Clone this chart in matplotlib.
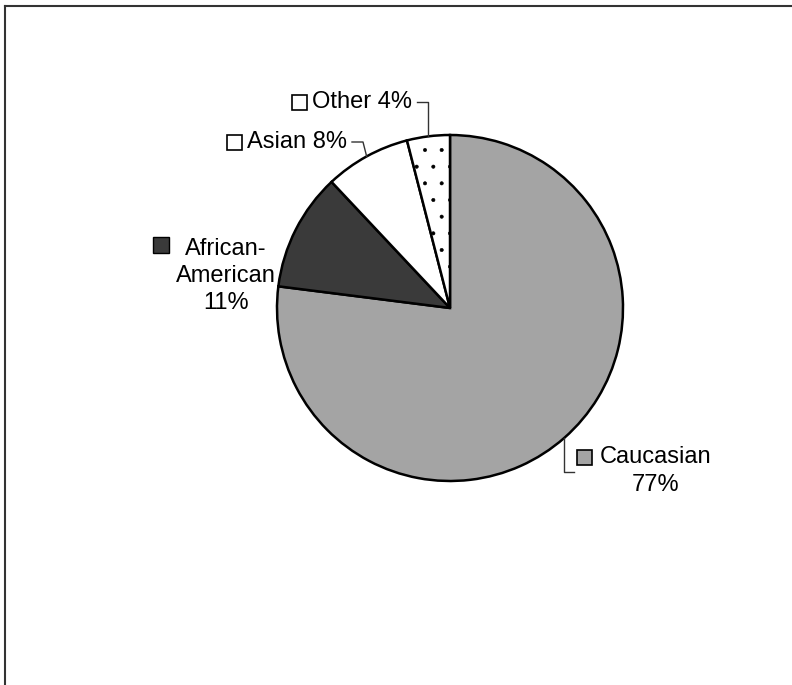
import numpy as np
import matplotlib
matplotlib.use("Agg")
import matplotlib.pyplot as plt
from matplotlib.patches import Rectangle
from matplotlib.lines import Line2D

# ---- data ----
categories = ["Caucasian", "African-American", "Asian", "Other"]
values = [77, 11, 8, 4]
label_texts = ["Caucasian\n77%", "African-\nAmerican\n11%", "Asian 8%", "Other 4%"]

# ---- style ----
colors = ["#a4a4a4", "#3a3a3a", "#ffffff", "#ffffff"]
hatches = [None, None, None, "."]

W, H = 792, 685
plt.rcParams['font.family'] = ['Liberation Sans', 'DejaVu Sans']
plt.rcParams['hatch.color'] = '#9a9a9a'
plt.rcParams['hatch.linewidth'] = 0.4

fig = plt.figure(figsize=(W / 100, H / 100), dpi=100)
ax = fig.add_axes([0, 0, 1, 1])

def Y(y):
    return H - y

cx, cy, r = 450, Y(308), 173
wedges, _ = ax.pie(values, colors=colors, startangle=90, counterclock=False,
                   center=(cx, cy), radius=r,
                   wedgeprops=dict(edgecolor="black", linewidth=1.8))
for w, h in zip(wedges, hatches):
    if h:
        w.set_hatch(h)

ax.set_xlim(0, W)
ax.set_ylim(0, H)
ax.set_aspect('equal')
ax.axis('off')

def edge_point(w):
    a = np.deg2rad((w.theta1 + w.theta2) / 2)
    return cx + r * np.cos(a), cy + r * np.sin(a)

fs = 17
box = 15
# Caucasian
ex, ey = edge_point(wedges[0])
ax.plot([ex, ex, ex + 10], [ey, Y(472), Y(472)], color="#333333", lw=1.0)
ax.add_patch(Rectangle((577, Y(465)), box, box, facecolor=colors[0], edgecolor="black", lw=1.2))
ax.text(656, Y(471), label_texts[0], ha="center", va="center", fontsize=fs,
        linespacing=1.3)

# African-American
ax.add_patch(Rectangle((153, Y(253)), box + 1, box + 1, facecolor=colors[1], edgecolor="black", lw=1.0))
ax.text(226, Y(276), label_texts[1], ha="center", va="center", fontsize=fs,
        linespacing=1.3)

# Asian
ex, ey = edge_point(wedges[2])
ax.plot([ex, 363, 352], [ey, Y(142), Y(142)], color="#333333", lw=1.0)
ax.add_patch(Rectangle((227, Y(150)), box, box, facecolor=colors[2], edgecolor="black", lw=1.2))
ax.text(247, Y(142), label_texts[2], ha="left", va="center", fontsize=fs)

# Other
ex, ey = edge_point(wedges[3])
ax.plot([ex, ex, 417], [ey, Y(102), Y(102)], color="#333333", lw=1.0)
ax.add_patch(Rectangle((292, Y(110)), box, box, facecolor=colors[3], edgecolor="black", lw=1.2))
ax.text(312, Y(102), label_texts[3], ha="left", va="center", fontsize=fs)

# chart frame (top and left borders visible)
fig.add_artist(Line2D([5 / W, 1], [1 - 6 / H, 1 - 6 / H], color="#333333", lw=1.5))
fig.add_artist(Line2D([5 / W, 5 / W], [0, 1 - 6 / H], color="#333333", lw=1.5))

fig.savefig("out.png", dpi=100, facecolor="white")
